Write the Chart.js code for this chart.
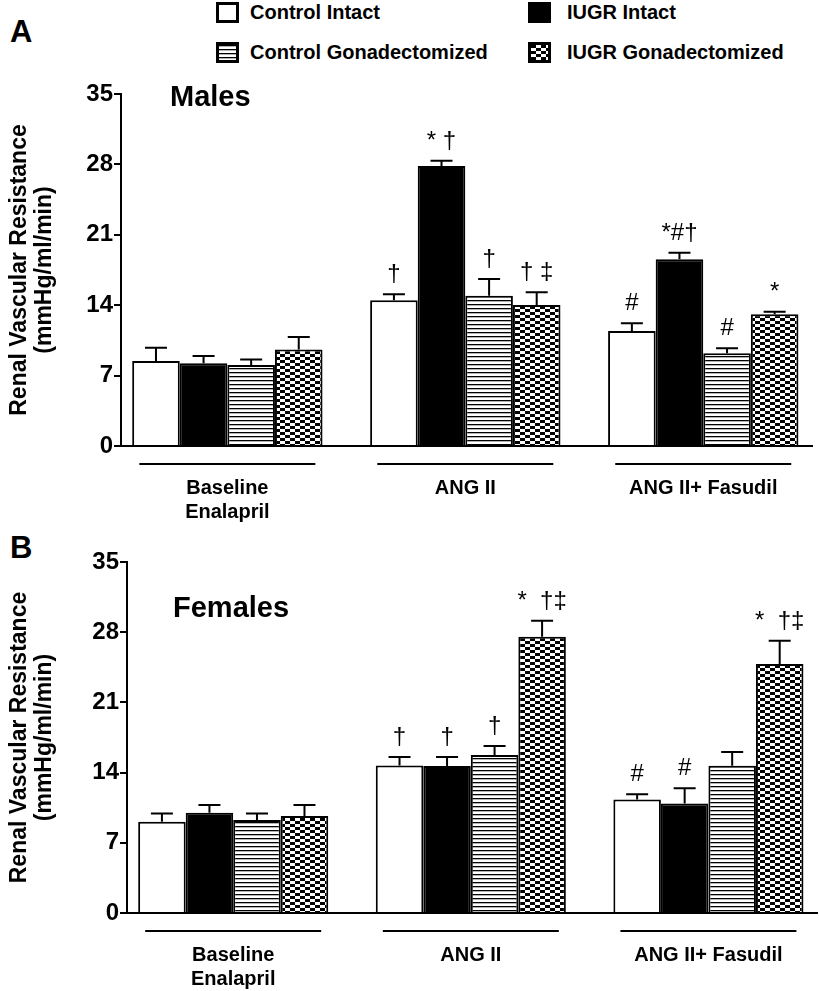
<!DOCTYPE html>
<html>
<head>
<meta charset="utf-8">
<script src="https://cdn.jsdelivr.net/npm/chart.js@4.4.0/dist/chart.umd.min.js"></script>
<style>
body{margin:0;background:#fff;font-family:"Liberation Sans",Arial,sans-serif;}
#wrap{position:relative;width:819px;height:991px;overflow:hidden;}
.panel{position:absolute;left:10px;font-size:31px;font-weight:bold;line-height:31px;}
.box{position:absolute;width:17px;height:15px;border:3px solid #000;background:#fff;}
.lt{position:absolute;font-size:20px;font-weight:bold;line-height:20px;white-space:nowrap;}
canvas{position:absolute;left:0;}
</style>
</head>
<body>
<div id="wrap">
  <div class="panel" style="top:16px">A</div>
  <div class="panel" style="top:532px">B</div>
  <div class="box" id="lg0" style="left:216px;top:2px"></div>
  <div class="lt" style="left:250px;top:2px">Control Intact</div>
  <div class="box" id="lg1" style="left:528px;top:2px;background:#000"></div>
  <div class="lt" style="left:567px;top:2px">IUGR Intact</div>
  <div class="box" id="lg2" style="left:216px;top:42px"></div>
  <div class="lt" style="left:250px;top:42px">Control Gonadectomized</div>
  <div class="box" id="lg3" style="left:528px;top:42px"></div>
  <div class="lt" style="left:567px;top:42px">IUGR Gonadectomized</div>
  <canvas id="chartA" width="819" height="530" style="top:0"></canvas>
  <canvas id="chartB" width="819" height="461" style="top:530px"></canvas>
</div>
<script>
"use strict";
var groups = [["Baseline", "Enalapril"], "ANG II", "ANG II+ Fasudil"];
var seriesNames = ["Control Intact", "IUGR Intact", "Control Gonadectomized", "IUGR Gonadectomized"];
var yTicks = [0, 7, 14, 21, 28, 35];

// Males (panel A)
var maleCtrlIntact = [8.45, 14.5, 11.43];
var maleCtrlIntactErr = [1.33, 0.6, 0.77];
var maleCtrlIntactSig = ["", "†", "#"];
var maleIugrIntact = [8.22, 27.84, 18.56];
var maleIugrIntactErr = [0.73, 0.53, 0.66];
var maleIugrIntactSig = ["", "* †", "*#†"];
var maleCtrlGonx = [8.05, 14.95, 9.22];
var maleCtrlGonxErr = [0.55, 1.65, 0.5];
var maleCtrlGonxSig = ["", "†", "#"];
var maleIugrGonx = [9.6, 14.02, 13.1];
var maleIugrGonxErr = [1.24, 1.26, 0.26];
var maleIugrGonxSig = ["", "† ‡", "*"];

// Females (panel B)
var femCtrlIntact = [9.1, 14.72, 11.33];
var femCtrlIntactErr = [0.83, 0.83, 0.5];
var femCtrlIntactSig = ["", "†", "#"];
var femIugrIntact = [9.99, 14.65, 10.93];
var femIugrIntactErr = [0.78, 0.9, 1.5];
var femIugrIntactSig = ["", "†", "#"];
var femCtrlGonx = [9.27, 15.75, 14.69];
var femCtrlGonxErr = [0.66, 0.9, 1.36];
var femCtrlGonxSig = ["", "†", ""];
var femIugrGonx = [9.67, 27.55, 24.83];
var femIugrGonxErr = [1.1, 1.6, 2.32];
var femIugrGonxSig = ["", "*  †‡", "*  †‡"];

var FONT = "'Liberation Sans', Arial, sans-serif";
Chart.defaults.font.family = FONT;
Chart.defaults.color = "#000";

function linesTile(){
    var c = document.createElement("canvas");
    c.width = 8; c.height = 4;
    var g = c.getContext("2d");
    g.fillStyle = "#fff"; g.fillRect(0, 0, 8, 4);
    g.fillStyle = "#000"; g.fillRect(0, 0, 8, 1.3);
    return c;
}
function checkerTile(){
    var c = document.createElement("canvas");
    c.width = 10; c.height = 6;
    var g = c.getContext("2d");
    g.fillStyle = "#fff"; g.fillRect(0, 0, 10, 6);
    g.fillStyle = "#000";
    g.fillRect(0, 0, 5, 3);
    g.fillRect(5, 3, 5, 3);
    return c;
}
var linesPat = document.createElement("canvas").getContext("2d").createPattern(linesTile(), "repeat");
var checkPat = document.createElement("canvas").getContext("2d").createPattern(checkerTile(), "repeat");
document.getElementById("lg2").style.background = "url(" + linesTile().toDataURL() + ")";
document.getElementById("lg3").style.background = "url(" + checkerTile().toDataURL() + ")";

function pts(arr){
    return arr.map(function(v, i){ return {x: i, y: v}; });
}

// error bars (upper only) + significance marks
var errorBars = {
    id: "errorBars",
    afterDatasetsDraw: function(chart){
        var ctx = chart.ctx;
        var ys = chart.scales.y;
        chart.data.datasets.forEach(function(ds, i){
            var meta = chart.getDatasetMeta(i);
            meta.data.forEach(function(bar, j){
                var top = ys.getPixelForValue(ds.data[j].y + ds.errors[j]);
                ctx.save();
                ctx.strokeStyle = "#000";
                ctx.lineWidth = 2;
                ctx.beginPath();
                ctx.moveTo(bar.x, bar.y);
                ctx.lineTo(bar.x, top);
                ctx.moveTo(bar.x - 11, top);
                ctx.lineTo(bar.x + 11, top);
                ctx.stroke();
                if (ds.marks[j]) {
                    ctx.fillStyle = "#000";
                    ctx.font = "24px " + FONT;
                    ctx.textAlign = "center";
                    ctx.textBaseline = "alphabetic";
                    ctx.fillText(ds.marks[j], bar.x, top - 13);
                }
                ctx.restore();
            });
        });
    }
};

// lines over group labels + panel title
var decor = {
    id: "decor",
    afterDraw: function(chart, args, opts){
        var ctx = chart.ctx;
        var xs = chart.scales.x;
        var area = chart.chartArea;
        ctx.save();
        ctx.strokeStyle = "#000";
        ctx.lineWidth = 2;
        groups.forEach(function(g, i){
            var cx = xs.getPixelForValue(i);
            ctx.beginPath();
            ctx.moveTo(cx - 88, area.bottom + 18);
            ctx.lineTo(cx + 88, area.bottom + 18);
            ctx.stroke();
        });
        ctx.fillStyle = "#000";
        ctx.font = "bold 29px " + FONT;
        ctx.textAlign = "left";
        ctx.textBaseline = "alphabetic";
        ctx.fillText(opts.text, area.left + opts.dx, area.top + opts.dy);
        ctx.restore();
    }
};

function makeChart(id, sets, axisLeft, padRight, padTop, xHeight, title){
    var fills = ["#fff", "#000", linesPat, checkPat];
    var datasets = sets.map(function(s, k){
        return {
            label: seriesNames[k],
            data: pts(s[0]),
            errors: s[1],
            marks: s[2],
            backgroundColor: fills[k],
            borderColor: "#000",
            borderWidth: 2,
            barPercentage: 1,
            categoryPercentage: 0.8
        };
    });
    return new Chart(document.getElementById(id), {
        type: "bar",
        data: {datasets: datasets},
        plugins: [errorBars, decor],
        options: {
            responsive: false,
            animation: false,
            layout: {padding: {top: padTop, right: padRight, left: 0, bottom: 0}},
            plugins: {
                legend: {display: false},
                tooltip: {enabled: false},
                decor: title
            },
            scales: {
                x: {
                    type: "linear",
                    offset: false,
                    min: -0.447,
                    max: 2.457,
                    afterBuildTicks: function(s){ s.ticks = groups.map(function(g, i){ return {value: i}; }); },
                    afterFit: function(s){ s.height = xHeight; },
                    grid: {display: false, drawTicks: false, offset: false},
                    border: {color: "#000", width: 2},
                    ticks: {
                        autoSkip: false,
                        maxRotation: 0,
                        padding: 30,
                        color: "#000",
                        font: {size: 20, weight: "bold", lineHeight: 1.2},
                        callback: function(v){ return groups[v]; }
                    }
                },
                y: {
                    min: 0,
                    max: 35,
                    afterBuildTicks: function(s){ s.ticks = yTicks.map(function(v){ return {value: v}; }); },
                    afterFit: function(s){ s.width = axisLeft; },
                    grid: {drawOnChartArea: false, drawTicks: true, tickLength: 7, color: "#000", lineWidth: 2},
                    border: {color: "#000", width: 2},
                    ticks: {padding: 1, color: "#000", font: {size: 24, weight: "bold"}},
                    title: {
                        display: true,
                        text: ["Renal Vascular Resistance", "(mmHg/ml/min)"],
                        color: "#000",
                        font: {size: 23, weight: "bold", lineHeight: 1.09},
                        padding: {top: 7, bottom: 0}
                    }
                }
            }
        }
    });
}

makeChart("chartA", [
    [maleCtrlIntact, maleCtrlIntactErr, maleCtrlIntactSig],
    [maleIugrIntact, maleIugrIntactErr, maleIugrIntactSig],
    [maleCtrlGonx, maleCtrlGonxErr, maleCtrlGonxSig],
    [maleIugrGonx, maleIugrGonxErr, maleIugrGonxSig]
], 121, 7, 94, 84, {text: "Males", dx: 49, dy: 12});

makeChart("chartB", [
    [femCtrlIntact, femCtrlIntactErr, femCtrlIntactSig],
    [femIugrIntact, femIugrIntactErr, femIugrIntactSig],
    [femCtrlGonx, femCtrlGonxErr, femCtrlGonxSig],
    [femIugrGonx, femIugrGonxErr, femIugrGonxSig]
], 127, 2, 32, 78, {text: "Females", dx: 46, dy: 55});
</script>
</body>
</html>
